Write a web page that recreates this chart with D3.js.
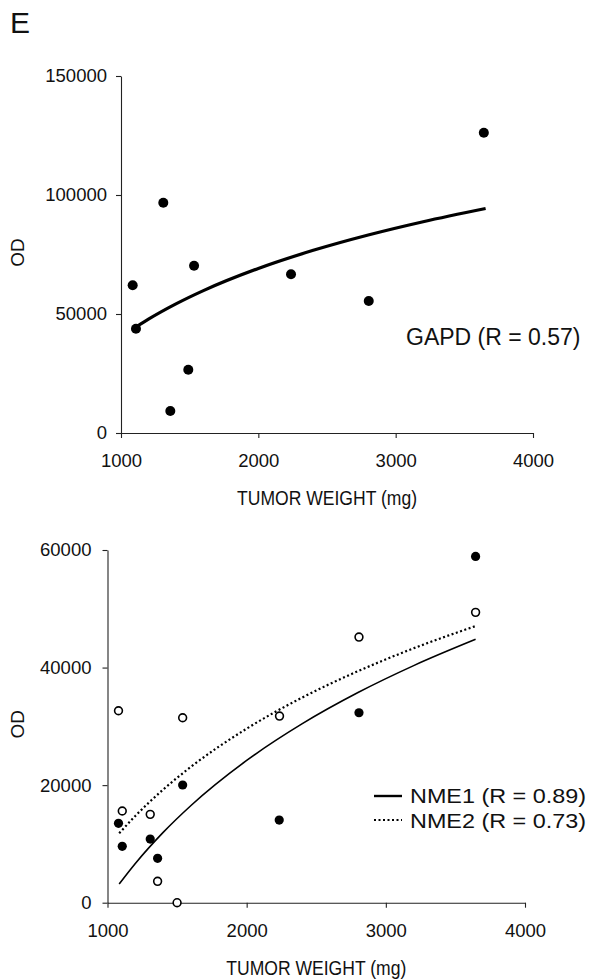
<!DOCTYPE html>
<html>
<head>
<meta charset="utf-8">
<script src="https://cdn.jsdelivr.net/npm/d3@7"></script>
<style>
  body { margin: 0; background: #fff; }
  svg text { font-family: "Liberation Sans", Arial, sans-serif; fill: #111; }
  .axis path, .axis line { stroke: #222; stroke-width: 1.1px; }
  .axis text { font-size: 18.5px; }
</style>
</head>
<body>
<svg class="fig" width="589" height="979"></svg>
<script>
// tick labels
let xTicks = [1000, 2000, 3000, 4000];
let gapdTicks = [0, 50000, 100000, 150000];
let nmeTicks = [0, 20000, 40000, 60000];

// GAPD panel (filled dots)
let gapdWeight = [1085, 1109, 1308, 1359, 1490, 1532, 2238, 2804, 3642];
let gapdOD = [62060, 43830, 96760, 9240, 26600, 70300, 66680, 55460, 126180];
// trend curve
let gapdTrendWeight = [1109, 1200, 1400, 1600, 2000, 2400, 2800, 3200, 3655];
let gapdTrend = [44500, 47800, 54230, 59810, 69130, 76750, 83190, 88770, 94320];

// NME panel
let nme1Weight = [1079, 1106, 1307, 1360, 1540, 2234, 2807, 3645];
let nme1OD = [13500, 9590, 10830, 7550, 20020, 14060, 32310, 58910];
let nme2Weight = [1079, 1106, 1307, 1360, 1500, 1540, 2236, 2807, 3645];
let nme2OD = [32650, 15600, 15030, 3640, 0, 31460, 31750, 45190, 49390];
let nmeTrendWeight = [1084, 1200, 1400, 1600, 2000, 2400, 2800, 3200, 3645];
let nme1Trend = [3180, 6670, 11960, 16540, 24200, 30460, 35750, 40330, 44800];
let nme2Trend = [11800, 14760, 19240, 23120, 29610, 34910, 39390, 43280, 47060];

const svg = d3.select(".fig");

svg.append("text")
  .attr("x", 10).attr("y", 33)
  .style("font-size", "30px")
  .text("E");

function zip(xs, ys) {
  return xs.map((x, i) => [x, ys[i]]);
}

function panel(opt) {
  let x = d3.scaleLinear().domain([1000, 4000]).range([opt.left, opt.right]);
  let y = d3.scaleLinear().domain([0, opt.ymax]).range([opt.bottom, opt.top]);
  let g = svg.append("g");

  g.append("g")
    .attr("class", "axis")
    .attr("transform", `translate(0,${opt.bottom})`)
    .call(d3.axisBottom(x).tickValues(xTicks).tickSize(5).tickSizeOuter(0).tickPadding(16).tickFormat(d3.format("d")));

  g.append("g")
    .attr("class", "axis")
    .attr("transform", `translate(${opt.left},0)`)
    .call(d3.axisLeft(y).tickValues(opt.yTicks).tickSize(5).tickSizeOuter(0).tickPadding(opt.ypad).tickFormat(d3.format("d")));

  // axis titles
  g.append("text")
    .attr("x", (opt.left + opt.right) / 2)
    .attr("y", opt.bottom + 72)
    .attr("text-anchor", "middle")
    .attr("textLength", 180)
    .attr("lengthAdjust", "spacingAndGlyphs")
    .style("font-size", "20px")
    .text("TUMOR WEIGHT (mg)");

  g.append("text")
    .attr("transform", `translate(${opt.odX},${(opt.top + opt.bottom) / 2 - 2}) rotate(-90)`)
    .attr("text-anchor", "middle")
    .style("font-size", "19px")
    .text("OD");

  return { x: x, y: y, g: g };
}

// ---- top panel ----
let p1 = panel({ left: 121, right: 533, top: 76, bottom: 433, ymax: 150000,
                 yTicks: gapdTicks, ypad: 9, odX: 24 });

let line1 = d3.line()
  .x(d => p1.x(d[0]))
  .y(d => p1.y(d[1]))
  .curve(d3.curveMonotoneX);

p1.g.append("path")
  .datum(zip(gapdTrendWeight, gapdTrend))
  .attr("d", line1)
  .attr("fill", "none")
  .attr("stroke", "#000")
  .attr("stroke-width", 3.2);

p1.g.selectAll(".gapd-dot")
  .data(zip(gapdWeight, gapdOD))
  .enter().append("circle")
  .attr("class", "gapd-dot")
  .attr("cx", d => p1.x(d[0]))
  .attr("cy", d => p1.y(d[1]))
  .attr("r", 5)
  .attr("fill", "#000");

p1.g.append("text")
  .attr("x", 406).attr("y", 345)
  .style("font-size", "23px")
  .text("GAPD (R = 0.57)");

// ---- bottom panel ----
let p2 = panel({ left: 107.5, right: 525, top: 550, bottom: 902.7, ymax: 60000,
                 yTicks: nmeTicks, ypad: 11, odX: 24 });

let line2 = d3.line()
  .x(d => p2.x(d[0]))
  .y(d => p2.y(d[1]))
  .curve(d3.curveMonotoneX);

p2.g.append("path")
  .datum(zip(nmeTrendWeight, nme2Trend))
  .attr("d", line2)
  .attr("fill", "none")
  .attr("stroke", "#000")
  .attr("stroke-width", 2.2)
  .attr("stroke-dasharray", "2,2.5");

p2.g.append("path")
  .datum(zip(nmeTrendWeight, nme1Trend))
  .attr("d", line2)
  .attr("fill", "none")
  .attr("stroke", "#000")
  .attr("stroke-width", 1.6);

p2.g.selectAll(".nme2-dot")
  .data(zip(nme2Weight, nme2OD))
  .enter().append("circle")
  .attr("class", "nme2-dot")
  .attr("cx", d => p2.x(d[0]))
  .attr("cy", d => p2.y(d[1]))
  .attr("r", 3.9)
  .attr("fill", "#fff")
  .attr("stroke", "#000")
  .attr("stroke-width", 1.6);

p2.g.selectAll(".nme1-dot")
  .data(zip(nme1Weight, nme1OD))
  .enter().append("circle")
  .attr("class", "nme1-dot")
  .attr("cx", d => p2.x(d[0]))
  .attr("cy", d => p2.y(d[1]))
  .attr("r", 4.6)
  .attr("fill", "#000");

// legend
let legend = svg.append("g");
legend.append("line")
  .attr("x1", 374).attr("x2", 402).attr("y1", 796).attr("y2", 796)
  .attr("stroke", "#000").attr("stroke-width", 2.4);
legend.append("line")
  .attr("x1", 374).attr("x2", 402).attr("y1", 820).attr("y2", 820)
  .attr("stroke", "#000").attr("stroke-width", 2).attr("stroke-dasharray", "2,2.5");
legend.append("text")
  .attr("x", 410).attr("y", 803)
  .attr("textLength", 176)
  .attr("lengthAdjust", "spacingAndGlyphs")
  .style("font-size", "21px")
  .text("NME1 (R = 0.89)");
legend.append("text")
  .attr("x", 410).attr("y", 828)
  .attr("textLength", 176)
  .attr("lengthAdjust", "spacingAndGlyphs")
  .style("font-size", "21px")
  .text("NME2 (R = 0.73)");
</script>
</body>
</html>
